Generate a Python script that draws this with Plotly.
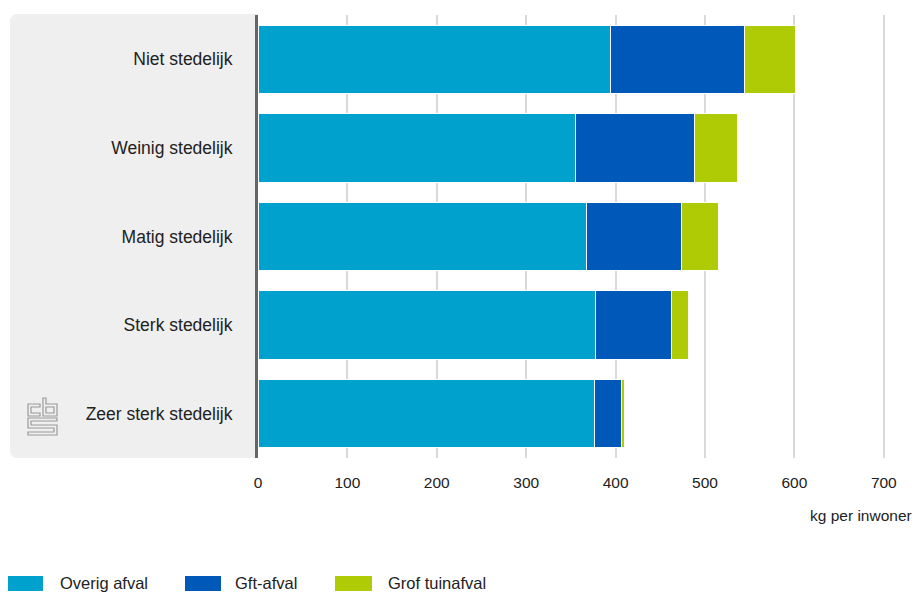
import plotly.graph_objects as go

# Afval per inwoner naar stedelijkheid (kg per inwoner)
categories = ["Niet stedelijk", "Weinig stedelijk", "Matig stedelijk",
              "Sterk stedelijk", "Zeer sterk stedelijk"]
overig_afval = [394, 355, 367, 378, 376]
gft_afval = [150, 133, 107, 85, 31]
grof_tuinafval = [57, 48, 41, 19, 2.5]

series_names = ["Overig afval", "Gft-afval", "Grof tuinafval"]
series_values = [overig_afval, gft_afval, grof_tuinafval]
series_colors = ["#00A1CD", "#0058B8", "#AFCB05"]

x_ticks = [0, 100, 200, 300, 400, 500, 600, 700]

W, H = 916, 593
L, R, T, B = 258, 0, 15, 135
PW, PH = W - L - R, H - T - B

FONT = "Liberation Sans, Arial, sans-serif"
TEXT = "#222222"


def px(x):
    return (x - L) / PW


def py(y):
    return (H - B - y) / PH


fig = go.Figure()
for name, vals, col in zip(series_names, series_values, series_colors):
    fig.add_trace(go.Bar(
        y=categories, x=vals, name=name, orientation="h",
        marker=dict(color=col, line=dict(color="white", width=1)),
        showlegend=False,
    ))

shapes = []
# grey panel behind the category labels, rounded on the left
r = 8
x0, x1, y0, y1 = 10, 258, 14, 458
path = (f"M {px(x1)},{py(y0)} L {px(x0 + r)},{py(y0)} "
        f"Q {px(x0)},{py(y0)} {px(x0)},{py(y0 + r)} "
        f"L {px(x0)},{py(y1 - r)} Q {px(x0)},{py(y1)} {px(x0 + r)},{py(y1)} "
        f"L {px(x1)},{py(y1)} Z")
shapes.append(dict(type="path", xref="paper", yref="paper", path=path,
                   fillcolor="#EFEFEF", line=dict(width=0), layer="below"))


# cbs logo outline
def poly(pts):
    return "M " + " L ".join(f"{px(a)},{py(b)}" for a, b in pts) + " Z"


logo_parts = [
    [(40, 404), (28, 404), (28, 416), (40, 416), (40, 413), (31, 413), (31, 407), (40, 407)],
    [(43, 398), (46, 398), (46, 404), (57, 404), (57, 416), (43, 416)],
    [(46, 407), (54, 407), (54, 413), (46, 413)],
    [(57, 418), (28, 418), (28, 428), (54, 428), (54, 432), (28, 432), (28, 435),
     (57, 435), (57, 425), (31, 425), (31, 421), (57, 421)],
]
for pts in logo_parts:
    shapes.append(dict(type="path", xref="paper", yref="paper", path=poly(pts),
                       line=dict(color="#9A9A9A", width=1.2), fillcolor="rgba(0,0,0,0)"))

# legend drawn as wide swatches with labels
annotations = []
legend_x = [(8, 43, 58), (185, 221, 233), (335, 372, 386)]
for (sx0, sx1, tx), name, col in zip(legend_x, series_names, series_colors):
    shapes.append(dict(type="rect", xref="paper", yref="paper",
                       x0=px(sx0), x1=px(sx1), y0=py(591), y1=py(576),
                       fillcolor=col, line=dict(width=0)))
    annotations.append(dict(text=name, xref="paper", yref="paper",
                            x=px(tx), y=py(583), xanchor="left", yanchor="middle",
                            showarrow=False, font=dict(size=16.5, color=TEXT)))

annotations.append(dict(text="kg per inwoner", xref="paper", yref="paper",
                        x=px(914), y=py(515), xanchor="right", yanchor="middle",
                        showarrow=False, font=dict(size=15.5, color=TEXT)))

fig.update_layout(
    width=W, height=H,
    margin=dict(l=L, r=R, t=T, b=B, pad=0),
    barmode="stack", bargap=0.23,
    plot_bgcolor="white", paper_bgcolor="white",
    font=dict(family=FONT, color=TEXT),
    shapes=shapes, annotations=annotations,
    xaxis=dict(range=[0, 736], tickvals=x_ticks, ticktext=[str(v) for v in x_ticks],
               showgrid=True, gridcolor="#D9D9D9", gridwidth=1.5, zeroline=False,
               ticks="", tickfont=dict(size=15.5, color=TEXT),
               ticklabelstandoff=13, fixedrange=True),
    yaxis=dict(categoryorder="array", categoryarray=categories[::-1],
               showline=True, linecolor="#666666", linewidth=3,
               ticks="", tickfont=dict(size=17.5, color=TEXT),
               ticklabelstandoff=19, showgrid=False, fixedrange=True),
)

fig.write_html("out.html")
